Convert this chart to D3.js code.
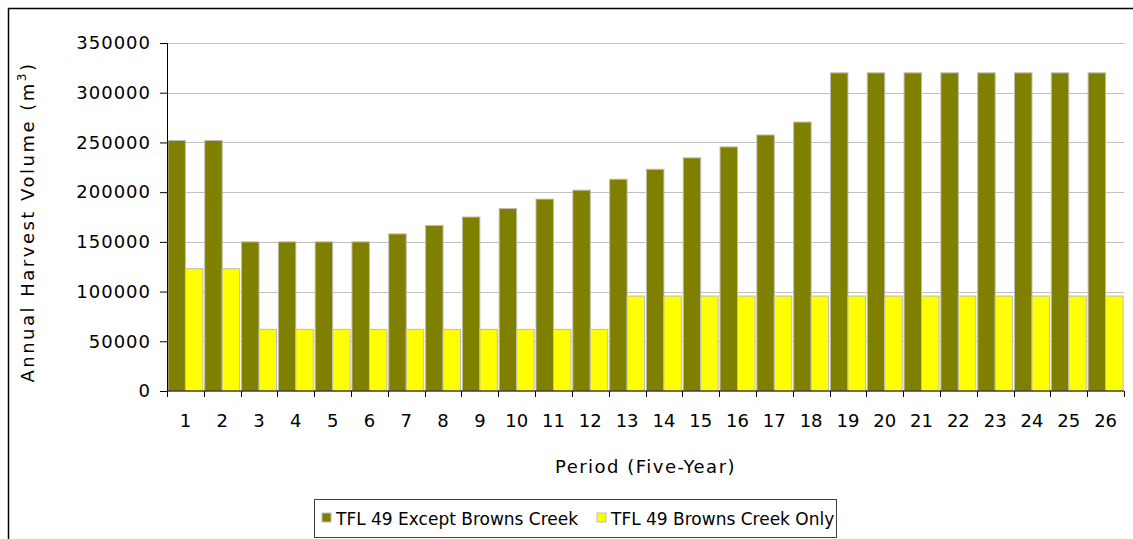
<!DOCTYPE html>
<html>
<head>
<meta charset="utf-8">
<script src="https://cdn.jsdelivr.net/npm/d3@7"></script>
<style>
  body { margin: 0; background: #fff; }
  text { font-family: "DejaVu Sans", Verdana, sans-serif; fill: #000; }
</style>
</head>
<body>
<div id="chart"></div>
<script>
// values (m3 per year)
var periods = ["1","2","3","4","5","6","7","8","9","10","11","12","13",
               "14","15","16","17","18","19","20","21","22","23","24","25","26"];

var exceptBrowns = [252000, 252000, 150000, 150000, 150000, 150000, 158000,
                    166500, 175000, 183500, 193000, 202000, 213000, 223000,
                    234500, 245500, 257500, 270500, 320000, 320000, 320000,
                    320000, 320000, 320000, 320000, 320000];

var brownsOnly = [123000, 123000, 62000, 62000, 62000, 62000, 62000, 62000,
                  62000, 62000, 62000, 62000, 95500, 95500, 95500, 95500,
                  95500, 95500, 95500, 95500, 95500, 95500, 95500, 95500,
                  95500, 95500];

var seriesNames = ["TFL 49 Except Browns Creek", "TFL 49 Browns Creek Only"];
var seriesColors = ["#808000", "#ffff00"];
var yTicks = [0, 50000, 100000, 150000, 200000, 250000, 300000, 350000];

var W = 1133, H = 539;
var plot = {left: 167, right: 1124, top: 43, bottom: 391};

var svg = d3.select("#chart").append("svg")
    .attr("width", W)
    .attr("height", H);

// outer frame of the chart area (goes off the right and bottom edges)
svg.append("rect")
    .attr("x", 8.5).attr("y", 8.5)
    .attr("width", 1200).attr("height", 600)
    .attr("fill", "none")
    .attr("stroke", "#000")
    .attr("stroke-width", 1.5);

var x = d3.scaleBand()
    .domain(periods)
    .range([plot.left, plot.right])
    .paddingInner(0.05)
    .paddingOuter(0.025);

var xs = d3.scaleBand()
    .domain([0, 1])
    .range([0, x.bandwidth()]);

var y = d3.scaleLinear()
    .domain([0, 350000])
    .range([plot.bottom, plot.top]);

// gridlines
svg.append("g").selectAll("line")
    .data(yTicks.slice(1))
    .enter().append("line")
    .attr("x1", plot.left).attr("x2", plot.right)
    .attr("y1", function(d) { return Math.round(y(d)) + 0.5; })
    .attr("y2", function(d) { return Math.round(y(d)) + 0.5; })
    .attr("stroke", "#c0c0c0")
    .attr("stroke-width", 1);

// bars
var rows = periods.map(function(p, i) {
    return {period: p, vals: [exceptBrowns[i], brownsOnly[i]]};
});

var groups = svg.append("g").selectAll("g")
    .data(rows)
    .enter().append("g")
    .attr("transform", function(d) { return "translate(" + x(d.period) + ",0)"; });

groups.selectAll("rect")
    .data(function(d) { return d.vals.map(function(v, k) { return {k: k, v: v}; }); })
    .enter().append("rect")
    .attr("x", function(d) { return xs(d.k); })
    .attr("y", function(d) { return y(d.v); })
    .attr("width", xs.bandwidth())
    .attr("height", function(d) { return plot.bottom - y(d.v); })
    .attr("fill", function(d) { return seriesColors[d.k]; })
    .attr("stroke", "#bdbdb5")
    .attr("stroke-width", 1);

// y axis
var yAxis = svg.append("g")
    .attr("transform", "translate(" + plot.left + ",0)")
    .call(d3.axisLeft(y).tickValues(yTicks).tickSize(7).tickPadding(9)
          .tickFormat(d3.format("d")));
yAxis.select(".domain").attr("stroke", "#000");
yAxis.selectAll(".tick line").attr("stroke", "#000");
yAxis.selectAll("text")
    .style("font-size", "18px")
    .style("letter-spacing", "1px")
    .attr("fill", "#000");

// x axis: ticks sit between categories, like the original
var xAxis = svg.append("g")
    .attr("transform", "translate(0," + plot.bottom + ")");
xAxis.append("line")
    .attr("x1", plot.left).attr("x2", plot.right)
    .attr("stroke", "#000");
var bounds = periods.map(function(p) { return x(p) - x.step() * x.paddingInner() / 2; });
bounds.push(plot.right);
xAxis.selectAll(".xtick")
    .data(bounds)
    .enter().append("line")
    .attr("class", "xtick")
    .attr("x1", function(d) { return Math.round(d) + 0.5; })
    .attr("x2", function(d) { return Math.round(d) + 0.5; })
    .attr("y1", 0).attr("y2", 6)
    .attr("stroke", "#000");
xAxis.selectAll(".xlab")
    .data(periods)
    .enter().append("text")
    .attr("class", "xlab")
    .attr("x", function(d) { return x(d) + x.bandwidth() / 2; })
    .attr("y", 36)
    .attr("text-anchor", "middle")
    .style("font-size", "18px")
    .text(function(d) { return d; });

// axis titles
svg.append("text")
    .attr("x", (plot.left + plot.right) / 2)
    .attr("y", 473)
    .attr("text-anchor", "middle")
    .style("font-size", "18px")
    .style("letter-spacing", "1.5px")
    .text("Period (Five-Year)");

var ytitle = svg.append("text")
    .attr("transform", "translate(34,222) rotate(-90)")
    .attr("text-anchor", "middle")
    .style("font-size", "18px")
    .style("letter-spacing", "2.5px");
ytitle.append("tspan").text("Annual Harvest Volume (m");
ytitle.append("tspan").attr("dy", -8).style("font-size", "12px").text("3");
ytitle.append("tspan").attr("dy", 8).text(")");

// legend
var legend = svg.append("g").attr("transform", "translate(314,499)");
legend.append("rect")
    .attr("x", 0.5).attr("y", 0.5)
    .attr("width", 522).attr("height", 38)
    .attr("fill", "#fff")
    .attr("stroke", "#404040")
    .attr("stroke-width", 1);

var legendX = [8, 283];
var items = legend.selectAll(".item")
    .data(seriesNames)
    .enter().append("g")
    .attr("class", "item")
    .attr("transform", function(d, i) { return "translate(" + legendX[i] + ",0)"; });
items.append("rect")
    .attr("x", 0).attr("y", 14)
    .attr("width", 9).attr("height", 9)
    .attr("fill", function(d, i) { return seriesColors[i]; })
    .attr("stroke", "#bdbdb5");
items.append("text")
    .attr("x", 14).attr("y", 26)
    .style("font-size", "17px")
    .text(function(d) { return d; });
</script>
</body>
</html>
